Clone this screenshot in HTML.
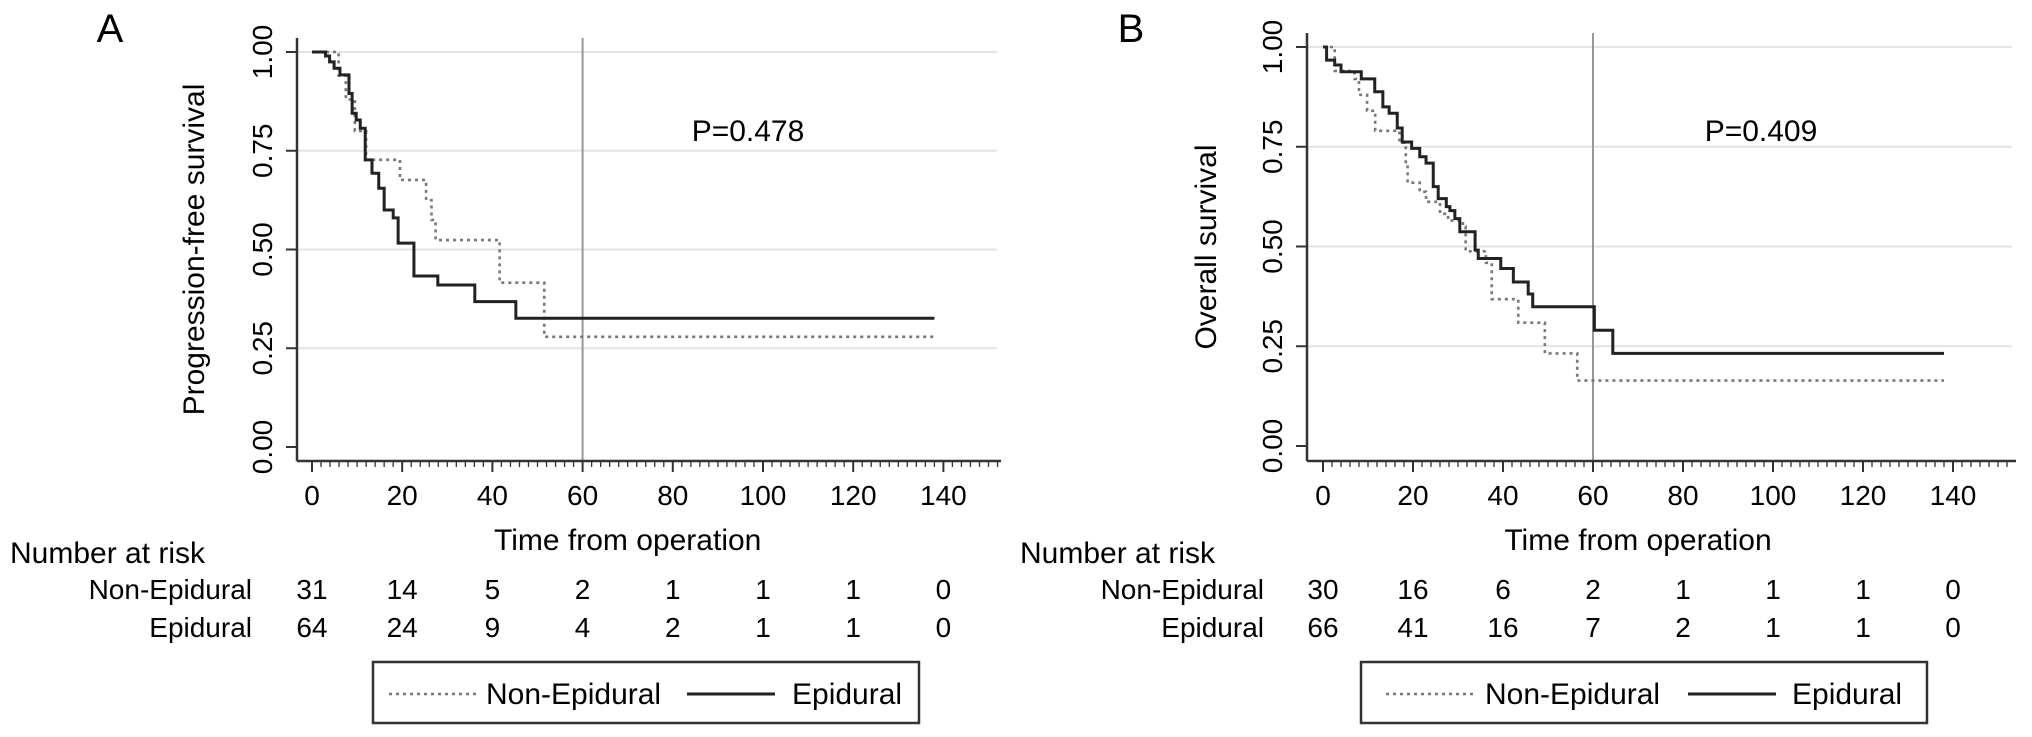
<!DOCTYPE html>
<html><head><meta charset="utf-8"><style>
html,body{margin:0;padding:0;background:#fff;}
svg{display:block;font-family:"Liberation Sans",Arial,sans-serif;}
</style></head><body>
<svg id="chart" width="2032" height="737" viewBox="0 0 2032 737" xmlns="http://www.w3.org/2000/svg">
<text x="110" y="42" font-size="40" text-anchor="middle">A</text>
<text x="1131" y="42" font-size="40" text-anchor="middle">B</text>
</svg>
<script>
// ---- data ----
const xTicks = [0,20,40,60,80,100,120,140];
const yTicks = [0,0.25,0.5,0.75,1];
const yTickLabels = ["0.00","0.25","0.50","0.75","1.00"];
const aEpiTimes = [3.0,3.9,4.9,6.2,8.2,8.9,9.8,10.7,11.8,13.3,14.8,16.0,18.0,19.1,22.6,27.9,36.1,45.2];
const aEpiSurv = [.99,.975,.959,.942,.895,.845,.828,.807,.727,.693,.655,.60,.58,.516,.433,.41,.368,.326];
const aNonTimes = [5.9,7.5,9.5,12.0,19.5,25.3,26.5,27.4,41.6,51.5];
const aNonSurv = [.94,.88,.80,.727,.676,.625,.575,.524,.416,.279];
const bEpiTimes = [0.8,2.6,4.0,8.5,11.5,13.3,14.7,16.5,17.6,19.7,21.5,22.9,24.5,25.6,27.4,28.2,29.3,30.4,33.8,34.5,39.5,42.3,45.6,46.6,60.3,64.4];
const bEpiSurv = [.967,.955,.938,.92,.888,.85,.834,.797,.762,.746,.725,.709,.65,.62,.60,.59,.57,.537,.491,.47,.445,.411,.381,.349,.290,.232];
const bNonTimes = [2.6,7.0,8.0,9.8,11.6,17.0,18.4,18.8,21.5,22.9,26.0,27.8,31.1,31.7,36.2,37.5,43.4,49.3,56.5];
const bNonSurv = [.94,.92,.88,.84,.79,.76,.70,.66,.637,.612,.582,.565,.55,.488,.459,.368,.309,.232,.164];
const aRiskNon = [31,14,5,2,1,1,1,0];
const aRiskEpi = [64,24,9,4,2,1,1,0];
const bRiskNon = [30,16,6,2,1,1,1,0];
const bRiskEpi = [66,41,16,7,2,1,1,0];
const endTime = 138;

const NS="http://www.w3.org/2000/svg";
const svg=document.getElementById('chart');
function mk(tag,attrs,parent){const e=document.createElementNS(NS,tag);for(const k in attrs)e.setAttribute(k,attrs[k]);(parent||svg).appendChild(e);return e;}

function panel(p){
  const g=mk('g',{});
  
  
  const xs=t=>p.x0+t*p.kx;
  const ys=s=>p.y0-s*(p.y0-p.y1);
  yTicks.forEach((v,i)=>{
    if(v>0){const gl=mk('line',{x1:p.axX,x2:p.gridEnd,y1:ys(v),y2:ys(v),stroke:'#e4e4e4','stroke-width':2},g);
      
      }
  });
  const vl=mk('line',{x1:xs(60),x2:xs(60),y1:p.axTop,y2:p.axBot,stroke:'#999','stroke-width':2},g);
  
  
  const ya=mk('line',{x1:p.axX,x2:p.axX,y1:p.axTop,y2:p.axBot,stroke:'#333','stroke-width':2.5},g);
  
  
  const xa=mk('line',{x1:p.axX,x2:p.gridEnd+4,y1:p.axBot,y2:p.axBot,stroke:'#333','stroke-width':2.5},g);
  
  
  for(let t=0;t<=152;t+=2){
    const major=t%20===0;
    mk('line',{x1:xs(t),x2:xs(t),y1:p.axBot,y2:p.axBot+(major?11:6),stroke:'#333','stroke-width':major?2:1.3},g);
  }
  xTicks.forEach(t=>{
    const tl=mk('text',{x:xs(t),y:p.axBot+44,'font-size':28,'text-anchor':'middle'},g);
    tl.textContent=t;
    
    
  });
  yTicks.forEach((v,i)=>{
    mk('line',{x1:p.axX-11,x2:p.axX,y1:ys(v),y2:ys(v),stroke:'#333','stroke-width':2},g);
    const tl=mk('text',{x:p.yLabX,y:ys(v),'font-size':28,'text-anchor':'middle',transform:'rotate(-90 '+p.yLabX+' '+ys(v)+')'},g);
    tl.textContent=yTickLabels[i];
    
    
  });
  const yt=mk('text',{x:p.yTitleX,y:(p.axTop+p.axBot)/2,'font-size':30,'text-anchor':'middle',transform:'rotate(-90 '+p.yTitleX+' '+((p.axTop+p.axBot)/2)+')'},g);
  yt.textContent=p.yTitle;
  
  
  const xt=mk('text',{x:xs(70),y:550,'font-size':30,'text-anchor':'middle'},g);
  xt.textContent='Time from operation';
  
  
  const pv=mk('text',{x:p.pX,y:141,'font-size':30,'text-anchor':'middle'},g);
  pv.textContent=p.pText;
  
  
  function step(times,surv){
    let d='M'+xs(0)+','+ys(1);
    times.forEach((t,i)=>{d+=' H'+xs(t)+' V'+ys(surv[i]);});
    d+=' H'+xs(endTime);return d;
  }
  const nc=mk('path',{d:step(p.nonT,p.nonS),fill:'none',stroke:'#777','stroke-width':2.6,'stroke-dasharray':'3 4'},g);
  
  
  const ec=mk('path',{d:step(p.epiT,p.epiS),fill:'none',stroke:'#222','stroke-width':3},g);
  
  
  const rt=mk('text',{x:p.riskTitleX,y:563,'font-size':30},g);
  rt.textContent='Number at risk';
  
  
  [['Non-Epidural',p.rNon,599],['Epidural',p.rEpi,637]].forEach(r=>{
    const lb=mk('text',{x:p.rowLabX,y:r[2],'font-size':28,'text-anchor':'end'},g);
    lb.textContent=r[0];
    
    
    r[1].forEach((n,i)=>{
      const c=mk('text',{x:xs(xTicks[i]),y:r[2],'font-size':28,'text-anchor':'middle'},g);
      c.textContent=n;
      
      
    });
  });
  const L=p.leg;
  const lbx=mk('rect',{x:L.x,y:662,width:L.w,height:61,fill:'none',stroke:'#333','stroke-width':2.5},g);
  
  
  mk('line',{x1:L.s1,x2:L.s1+88,y1:694,y2:694,stroke:'#777','stroke-width':2.5,'stroke-dasharray':'3 4'},g);
  const l1=mk('text',{x:L.t1,y:704,'font-size':30},g);
  l1.textContent='Non-Epidural';
  
  
  mk('line',{x1:L.s2,x2:L.s2+88,y1:694,y2:694,stroke:'#222','stroke-width':3},g);
  const l2=mk('text',{x:L.t2,y:704,'font-size':30},g);
  l2.textContent='Epidural';
  
  
}
panel({id:'a',x0:312,kx:4.51,y0:447,y1:52,axX:297,axTop:38,axBot:461,gridEnd:997,yLabX:272,yTitleX:204,
  yTitle:'Progression-free survival',pX:748,pText:'P=0.478',
  epiT:aEpiTimes,epiS:aEpiSurv,nonT:aNonTimes,nonS:aNonSurv,rNon:aRiskNon,rEpi:aRiskEpi,
  riskTitleX:10,rowLabX:252,leg:{x:373,w:546,s1:389,t1:486,s2:687,t2:792}});
panel({id:'b',x0:1323,kx:4.5,y0:446,y1:47,axX:1307,axTop:33,axBot:461,gridEnd:2012,yLabX:1282,yTitleX:1216,
  yTitle:'Overall survival',pX:1761,pText:'P=0.409',
  epiT:bEpiTimes,epiS:bEpiSurv,nonT:bNonTimes,nonS:bNonSurv,rNon:bRiskNon,rEpi:bRiskEpi,
  riskTitleX:1020,rowLabX:1264,leg:{x:1361,w:566,s1:1386,t1:1485,s2:1688,t2:1792}});
</script>
</body></html>
